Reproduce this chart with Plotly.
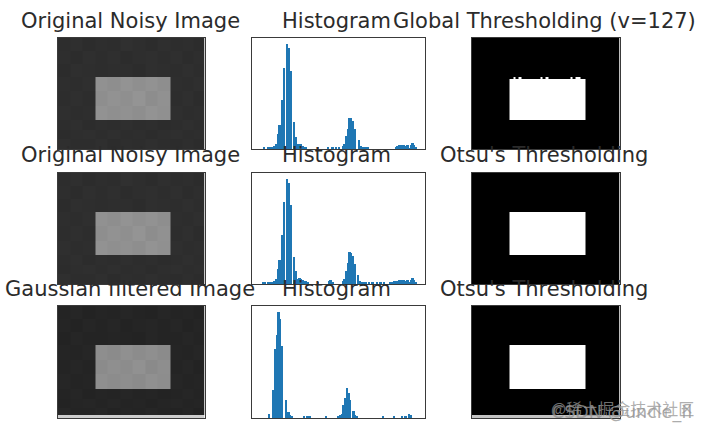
import plotly.graph_objects as go

W, H = 709, 432
BLUE = "#1f77b4"
FRAME = "#3a3a3a"
TEXT = "#2b2b2b"

titles = ["Original Noisy Image", "Histogram", "Global Thresholding (v=127)",
          "Original Noisy Image", "Histogram", "Otsu's Thresholding",
          "Gaussian filtered Image", "Histogram", "Otsu's Thresholding"]

# grey-level image cells: edges in image pixels (400x300 image)
noisy_x = [0, 34, 69, 103, 137, 171, 205, 239, 273, 307, 339, 370, 400]
noisy_y = [0, 35, 70, 105, 144, 183, 221, 248, 274, 300]
noisy_z = [
    [45, 47, 44, 46, 45, 48, 46, 44, 47, 45, 46, 44],
    [46, 44, 47, 45, 47, 44, 46, 47, 45, 47, 44, 46],
    [44, 47, 46, 45, 46, 46, 44, 47, 46, 45, 47, 45],
    [46, 45, 47, 145, 142, 147, 143, 146, 142, 46, 45, 47],
    [45, 47, 45, 142, 146, 143, 148, 141, 145, 45, 47, 44],
    [47, 45, 46, 146, 143, 145, 142, 147, 144, 47, 45, 46],
    [45, 47, 44, 46, 45, 47, 45, 46, 44, 45, 47, 45],
    [44, 46, 47, 45, 47, 45, 46, 44, 46, 47, 45, 46],
    [47, 45, 45, 47, 44, 46, 45, 47, 45, 44, 46, 44],
]
gauss_y = [0, 35, 70, 105, 144, 183, 221, 248, 274, 291, 300]
gauss_z = [
    [36, 38, 35, 37, 36, 38, 36, 35, 38, 36, 37, 35],
    [37, 35, 38, 36, 38, 35, 37, 38, 36, 38, 35, 37],
    [35, 38, 36, 36, 37, 36, 35, 38, 36, 36, 38, 36],
    [37, 36, 38, 142, 139, 144, 140, 143, 139, 37, 36, 38],
    [36, 38, 36, 139, 143, 140, 145, 138, 142, 36, 38, 35],
    [38, 36, 37, 143, 140, 142, 139, 144, 141, 38, 36, 37],
    [36, 38, 35, 37, 36, 38, 36, 37, 35, 36, 38, 36],
    [35, 37, 38, 36, 38, 36, 37, 35, 37, 38, 36, 37],
    [38, 36, 36, 38, 35, 37, 36, 38, 36, 35, 37, 34],
    [205, 205, 205, 205, 205, 205, 205, 205, 205, 205, 205, 205],
]
# global threshold: white block with a jagged top row
global_x = [0, 103, 114, 120, 127, 135, 186, 192, 200, 208, 267, 273, 281, 294, 307, 400]
global_y = [0, 105, 112, 221, 300]
global_z = [
    [0, 0, 0, 0, 0, 0, 0, 0, 0, 0, 0, 0, 0, 0, 0],
    [0, 0, 255, 0, 255, 0, 255, 0, 255, 0, 255, 0, 255, 0, 0],
    [0, 255, 255, 255, 255, 255, 255, 255, 255, 255, 255, 255, 255, 255, 0],
    [0, 0, 0, 0, 0, 0, 0, 0, 0, 0, 0, 0, 0, 0, 0],
]
otsu_x = [0, 103, 307, 400]
otsu_y = [0, 105, 221, 300]
otsu_z = [[0, 0, 0], [0, 255, 0], [0, 0, 0]]
otsu2_y = [0, 105, 221, 291, 300]
otsu2_z = [[0, 0, 0], [0, 255, 0], [0, 0, 0], [195, 195, 195]]

# histograms: grey level, count
hist1_x = [17, 22, 25, 27, 30, 32, 34.5, 37, 39.5, 43, 46, 51, 53.5, 56, 61.5, 64, 66, 69, 71, 74, 76, 79,
           96, 111, 118, 123, 128, 133, 135.5, 138, 140.5, 143, 145.5, 148, 150.5, 157, 160, 163, 167, 170,
           212, 214, 216.5, 219, 221, 224, 226.5, 229, 231, 234, 236.5, 239, 241]
hist1_y = [5, 5, 5, 6, 6, 8, 14, 44, 72, 147, 245, 316, 305, 235, 80, 35, 15, 16, 14, 8, 6, 4,
           5, 4, 4, 4, 4, 8, 15, 40, 60, 95, 95, 85, 60, 27, 10, 5, 4, 5,
           6, 10, 13, 12, 12, 12, 8, 12, 3, 12, 18, 13, 5]
hist2_x = [15, 18, 22, 25, 27, 30, 32, 34.5, 37, 39.5, 43, 46, 51, 53.5, 56, 61.5, 64, 66, 69, 71, 74, 76, 79, 81,
           96, 113, 115, 118, 133, 135.5, 138, 140.5, 143, 145.5, 148, 150.5, 156, 159, 161, 165, 167, 172, 177, 184, 189, 194,
           204, 206, 209, 212, 214, 216.5, 219, 221, 224, 226.5, 229, 231, 234, 236.5, 239, 241]
hist2_y = [6, 6, 5, 5, 6, 6, 8, 14, 44, 72, 147, 247, 318, 306, 237, 82, 40, 16, 18, 16, 12, 10, 8, 6,
           5, 8, 12, 6, 8, 16, 40, 62, 96, 94, 85, 60, 27, 10, 6, 5, 5, 5, 5, 6, 5, 6,
           6, 7, 8, 8, 10, 13, 12, 12, 12, 8, 12, 4, 12, 18, 13, 5]
hist3_x = [24.5, 30.5, 33, 35.5, 38, 40, 43, 49, 53, 55.5, 58, 76, 81, 85, 108,
           127, 129, 132, 134, 137, 139, 142, 144, 149, 151.5, 154, 193, 209, 221, 226, 231, 234]
hist3_y = [12, 85, 205, 248, 318, 295, 215, 55, 18, 8, 5, 5, 6, 6, 5,
           5, 8, 12, 38, 60, 90, 75, 55, 22, 8, 5, 5, 5, 5, 5, 12, 8]

# panel boxes in page pixels: left, right, top, bottom
columns = [(57, 204), (251, 424), (471, 619)]
rows = [(38, 149), (173, 284), (306, 418)]
title_mid = [21, 155, 289]
col_mid = [130, 336, 544]

fig = go.Figure()
layout = {}

def add_image(n, xs, ys, zs):
    fig.add_trace(go.Heatmap(x=xs, y=ys, z=zs, zmin=0, zmax=255, showscale=False, hoverinfo="skip",
                             colorscale=[[0, "black"], [1, "white"]],
                             xaxis=f"x{n}", yaxis=f"y{n}"))

def add_hist(n, xs, ys):
    fig.add_trace(go.Bar(x=xs, y=ys, width=2.6, marker=dict(color=BLUE, line_width=0),
                         hoverinfo="skip", xaxis=f"x{n}", yaxis=f"y{n}"))

add_image(1, noisy_x, noisy_y, noisy_z)
add_hist(2, hist1_x, hist1_y)
add_image(3, global_x, global_y, global_z)
add_image(4, noisy_x, noisy_y, noisy_z)
add_hist(5, hist2_x, hist2_y)
add_image(6, otsu_x, otsu_y, otsu_z)
add_image(7, noisy_x, gauss_y, gauss_z)
add_hist(8, hist3_x, hist3_y)
add_image(9, otsu_x, otsu2_y, otsu2_z)

annotations = []
for r in range(3):
    for c in range(3):
        n = r * 3 + c + 1
        l, rt = columns[c]
        t, b = rows[r]
        is_hist = c == 1
        common = dict(showticklabels=False, ticks="", showgrid=False, zeroline=False,
                      showline=True, mirror=True, linecolor=FRAME, linewidth=1.3)
        layout[f"xaxis{n}"] = dict(common, domain=[(l + 0.5) / W, (rt + 0.5) / W], anchor=f"y{n}",
                                   range=[-1.5, 254.5] if is_hist else [0, 400])
        layout[f"yaxis{n}"] = dict(common, domain=[1 - b / H, 1 - t / H], anchor=f"x{n}",
                                   range=[0, 335] if is_hist else [300, 0])
        annotations.append(dict(text=titles[n - 1], x=col_mid[c] / W, y=1 - title_mid[r] / H,
                                xref="paper", yref="paper", showarrow=False,
                                xanchor="center", yanchor="middle",
                                font=dict(family="DejaVu Sans", size=21, color=TEXT)))

annotations.append(dict(text="@稀土掘金技术社区", x=696 / W, y=1 - 408 / H, xref="paper", yref="paper",
                        showarrow=False, xanchor="right", yanchor="middle",
                        font=dict(family="Noto Sans CJK SC", size=16, color="rgba(150,150,150,0.75)")))
annotations.append(dict(text="CSDN @uncle_fl", x=694 / W, y=1 - 412 / H, xref="paper", yref="paper",
                        showarrow=False, xanchor="right", yanchor="middle",
                        font=dict(family="DejaVu Sans", size=17.5, color="rgba(150,150,150,0.8)")))

fig.update_layout(width=W, height=H, margin=dict(l=0, r=0, t=0, b=0), showlegend=False,
                  paper_bgcolor="white", plot_bgcolor="white", bargap=0,
                  annotations=annotations, **layout)
fig.write_html("out.html", config={"displayModeBar": False},
               post_script="document.body.style.margin='0';")
